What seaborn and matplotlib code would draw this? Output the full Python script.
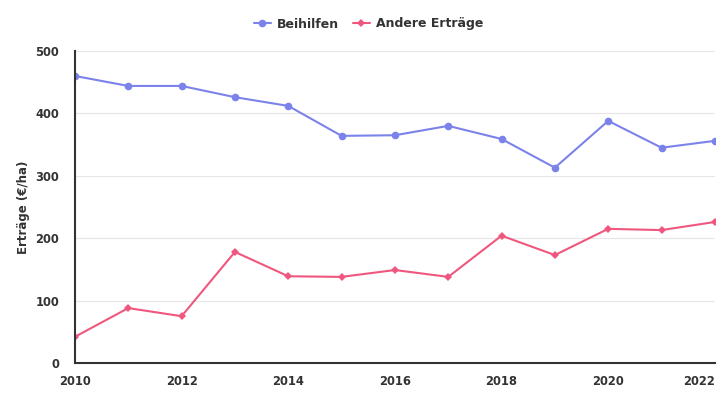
import matplotlib
matplotlib.use("Agg")
import matplotlib.pyplot as plt
import seaborn as sns
import pandas as pd
from matplotlib.lines import Line2D

years = [2010, 2011, 2012, 2013, 2014, 2015, 2016, 2017, 2018, 2019, 2020, 2021, 2022]
beihilfen = [460, 444, 444, 426, 412, 364, 365, 380, 359, 313, 388, 345, 356]
andere = [42, 88, 75, 178, 139, 138, 149, 138, 204, 173, 215, 213, 226]
series_names = ["Beihilfen", "Andere Erträge"]
colors = ["#7b83eb", "#f0577f"]
markers = ["o", "D"]

df = pd.DataFrame({"Jahr": years * 2,
                   "Wert": beihilfen + andere,
                   "Serie": [series_names[0]] * len(years) + [series_names[1]] * len(years)})

sns.set_theme(style="white")
plt.rcParams['font.family'] = ['DejaVu Sans']

fig = plt.figure(figsize=(7.25, 4), dpi=100)
ax = fig.add_axes([0.1034, 0.0925, 0.8826, 0.78])

sns.lineplot(data=df, x="Jahr", y="Wert", hue="Serie", style="Serie",
             palette=dict(zip(series_names, colors)),
             markers=dict(zip(series_names, markers)), dashes=False,
             linewidth=1.5, markersize=5.5, markeredgewidth=0, ax=ax, legend=False)
for line in ax.get_lines():
    if line.get_marker() == "D":
        line.set_markersize(4.2)

ax.set_xlim(2010, 2022)
ax.set_ylim(0, 500)
ax.set_xticks(range(2010, 2023, 2))
ax.set_yticks(range(0, 501, 100))
ax.yaxis.grid(True, color="#e6e6e6", linewidth=0.8)
ax.xaxis.grid(False)
ax.set_axisbelow(True)
for s in ["top", "right"]:
    ax.spines[s].set_visible(False)
for s in ["left", "bottom"]:
    ax.spines[s].set_color("#333333")
    ax.spines[s].set_linewidth(1.5)
ax.tick_params(axis="both", direction="out", length=7, width=1.5, color="#333333",
               labelsize=8.3, labelcolor="#333333")
ax.tick_params(axis="x", pad=1.5)
ax.tick_params(axis="y", pad=4.5)
for lab in ax.get_xticklabels() + ax.get_yticklabels():
    lab.set_fontweight("bold")
ax.get_xticklabels()[-1].set_horizontalalignment("right")
ax.set_xlabel("")
ax.set_ylabel("Erträge (€/ha)", fontsize=8.5, fontweight="bold", color="#333333", labelpad=4)

handles = [Line2D([], [], color=c, marker=m, markersize=5.5 if m == "o" else 4.2,
                  markeredgewidth=0, linewidth=1.5) for c, m in zip(colors, markers)]
leg = fig.legend(handles, series_names, loc="center", bbox_to_anchor=(0.508, 0.94),
                 ncol=2, frameon=False, handlelength=1.4, columnspacing=1.1,
                 handletextpad=0.45, prop={"weight": "bold", "size": 9})
for t in leg.get_texts():
    t.set_color("#333333")

fig.savefig("out.png", dpi=100)
